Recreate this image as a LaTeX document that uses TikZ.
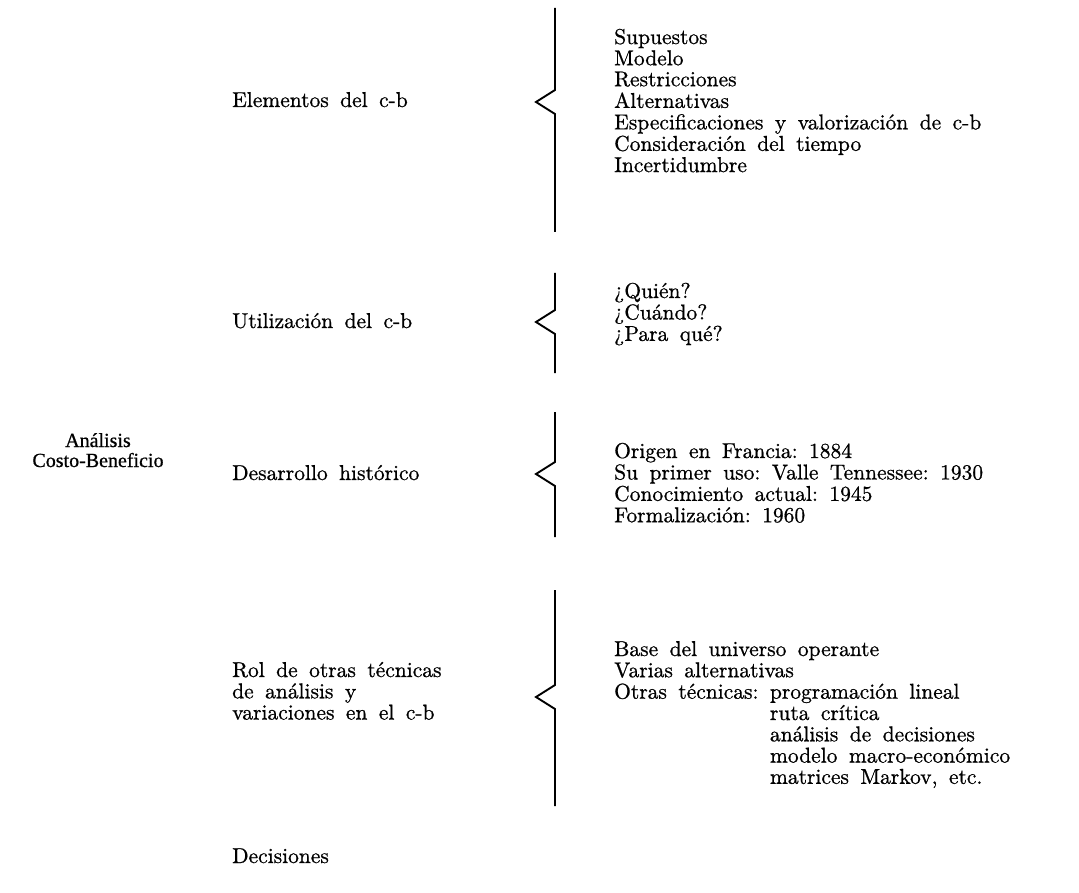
\documentclass[tikz,border=0pt]{standalone}
\usepackage{fontspec}
\setmainfont{lmroman10-regular.otf}[WordSpace=1.6, FakeBold=0.8]
\newfontfamily\plainfont{Liberation Serif}[FakeBold=0.8]
\frenchspacing
\newcommand{\mybrace}[4]{% x, top, tip y, bottom
  \draw[bracestyle] (#1,#2) -- (#1,#3-12) -- (#1-19,#3) -- (#1,#3+12) -- (#1,#4);}
\tikzset{
  bracestyle/.style={line width=1.9pt, line join=miter},
  txt/.style={anchor=base west, inner sep=0pt, font=\fontsize{21.5}{21}\selectfont},
  ttl/.style={anchor=base, inner sep=0pt, font=\plainfont\fontsize{20}{20}\selectfont},
}
\begin{document}
\begin{tikzpicture}[x=1pt,y=-1pt]
\useasboundingbox (0,0) rectangle (1079,893);
% title
\node[ttl] (t1) at (98,447) {Análisis};
\node[ttl] (t2) at (98,467) {Costo-Beneficio};
% left labels
\node[txt] (l1) at (232,107) {Elementos del c-b};
\node[txt] (l2) at (232,328) {Utilización del c-b};
\node[txt] (l3) at (232,480) {Desarrollo histórico};
\node[txt] (l4) at (232,677) {\begin{tabular}[t]{@{}l@{}}Rol de otras técnicas\\de análisis y\\variaciones en el c-b\end{tabular}};
\node[txt] (l5) at (232,863) {Decisiones};
% braces
\mybrace{555}{8}{102}{232}
\mybrace{555}{273}{322}{373}
\mybrace{555}{412}{474}{537}
\mybrace{555}{590}{697}{806}
% right lists
\node[txt] (r1) at (614,44) {\begin{tabular}[t]{@{}l@{}}Supuestos\\Modelo\\Restricciones\\Alternativas\\Especificaciones y valorización de c-b\\Consideración del tiempo\\Incertidumbre\end{tabular}};
\node[txt] (r2) at (614,298) {\begin{tabular}[t]{@{}l@{}}¿Quién?\\¿Cuándo?\\¿Para qué?\end{tabular}};
\node[txt] (r3) at (614,458) {\begin{tabular}[t]{@{}l@{}}Origen en Francia: 1884\\Su primer uso: Valle Tennessee: 1930\\Conocimiento actual: 1945\\Formalización: 1960\end{tabular}};
\node[txt] (r4) at (614,656) {\begin{tabular}[t]{@{}l@{}}Base del universo operante\\Varias alternativas\\Otras técnicas: \begin{tabular}[t]{@{}l@{}}programación lineal\\ruta crítica\\análisis de decisiones\\modelo macro-económico\\matrices Markov, etc.\end{tabular}\end{tabular}};
\end{tikzpicture}
\end{document}
